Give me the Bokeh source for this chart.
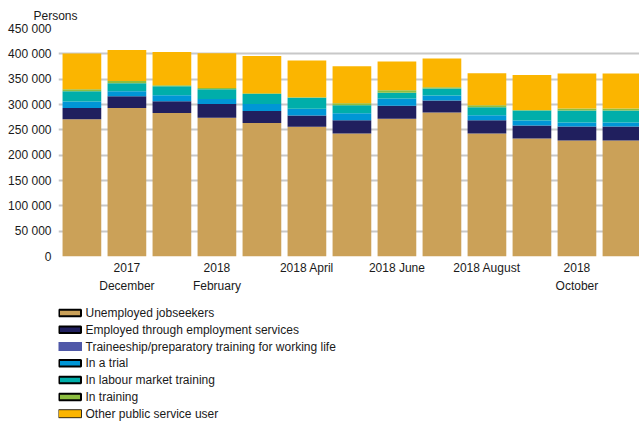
from bokeh.plotting import figure
from bokeh.layouts import column
from bokeh.models import ColumnDataSource, FixedTicker, Title, Range1d
from bokeh.core.properties import value
from bokeh.embed import file_html
from bokeh.resources import INLINE

months = ["2017 November", "2017 December", "2018 January", "2018 February", "2018 March",
          "2018 April", "2018 May", "2018 June", "2018 July", "2018 August",
          "2018 September", "2018 October", "2018 November"]
tick_labels = {1: "2017\nDecember", 3: "2018\nFebruary", 5: "2018 April", 7: "2018 June",
               9: "2018 August", 11: "2018\nOctober"}

series_names = ["Unemployed jobseekers", "Employed through employment services",
                "Traineeship/preparatory training for working life", "In a trial",
                "In labour market training", "In training", "Other public service user"]
unemployed = [271000, 293000, 283000, 274000, 263500, 256000, 243000, 272000, 284000, 243000, 233000, 229000, 229000]
employed = [22300, 23100, 23600, 27200, 23700, 22300, 25700, 25700, 23700, 25700, 25700, 27600, 27600]
traineeship = [0, 0, 0, 0, 0, 0, 0, 0, 0, 0, 0, 0, 0]
trial = [12700, 9900, 11800, 9900, 14000, 13200, 13800, 13900, 9900, 9900, 9900, 7900, 7900]
labour = [20300, 15800, 17700, 19100, 19700, 22000, 15800, 11800, 13800, 15800, 19700, 23700, 23700]
training = [3900, 4500, 2000, 2600, 1400, 700, 4000, 4500, 2600, 3900, 700, 4000, 4000]
other = [70500, 61500, 65600, 68500, 73600, 72400, 73000, 56800, 56600, 63200, 69100, 69100, 69100]
y_ticks = [0, 50000, 100000, 150000, 200000, 250000, 300000, 350000, 400000, 450000]

colors = ["#CBA158", "#201F5E", "#4F58A8", "#0096D6", "#00AEAA", "#8DBE40", "#FBB500"]
keys = ["unemployed", "employed", "traineeship", "trial", "labour", "training", "other"]

src = ColumnDataSource(dict(x=list(range(len(months))), unemployed=unemployed, employed=employed,
                            traineeship=traineeship, trial=trial, labour=labour,
                            training=training, other=other))

FONT = "Liberation Sans"
TXT = "#1a1a1a"

# ---------------- main chart ----------------
p = figure(width=639, height=300, output_backend="svg", toolbar_location=None,
           x_range=Range1d(-0.52, 12.39), y_range=Range1d(0, 450000),
           min_border_left=58, min_border_right=0, min_border_top=28, min_border_bottom=44)
p.outline_line_color = None

p.vbar_stack(keys, x="x", width=0.86, source=src, color=colors, line_color=None)

p.xaxis.ticker = FixedTicker(ticks=list(tick_labels.keys()))
p.xaxis.major_label_overrides = tick_labels
p.yaxis.ticker = FixedTicker(ticks=y_ticks)
p.yaxis.major_label_overrides = {v: (f"{v:,}".replace(",", " ")) for v in y_ticks}
for ax in (p.xaxis[0], p.yaxis[0]):
    ax.axis_line_color = None
    ax.major_tick_line_color = None
    ax.minor_tick_line_color = None
    ax.major_tick_in = 0
    ax.major_tick_out = 0
    ax.major_label_text_font = FONT
    ax.major_label_text_font_size = "12px"
    ax.major_label_text_color = TXT
p.xaxis.major_label_standoff = 4
p.xaxis.major_label_text_line_height = 1.3
p.yaxis.major_label_standoff = 7

p.xgrid.grid_line_color = None
p.ygrid.grid_line_color = "#C8C8C8"
p.ygrid.grid_line_width = 2

p.add_layout(Title(text="Persons", align="left", offset=-25, standoff=8,
                   vertical_align="top", text_line_height=1.6,
                   text_font=FONT, text_font_size="12px", text_font_style="normal",
                   text_color=TXT), "above")

# ---------------- legend panel ----------------
n = len(series_names)
leg_src = ColumnDataSource(dict(
    name=series_names, color=colors,
    y=[12.4 + 16.8 * i for i in range(n)],
    sx=[69.5] * n, tx=[85] * n,
    w=[22, 22, 24, 22, 22, 22, 23], h=[6.5, 6.5, 9, 6.5, 6.5, 6.5, 8],
    la=[1, 1, 0, 1, 1, 1, 0.8], lw=[2, 2, 2, 2, 2, 2, 1],
))
lg = figure(width=639, height=121, output_backend="svg", toolbar_location=None,
            x_range=Range1d(58, 639), y_range=Range1d(121, 0),
            min_border=0, min_border_left=0, min_border_right=0, min_border_top=0, min_border_bottom=0)
lg.axis.visible = False
lg.grid.grid_line_color = None
lg.outline_line_color = None
lg.rect(x="sx", y="y", width="w", height="h", source=leg_src, fill_color="color",
        line_color="black", line_alpha="la", line_width="lw")
lg.text(x="tx", y="y", text="name", source=leg_src, text_font=value(FONT),
        text_font_size="12px", text_color=TXT, text_baseline="middle", text_align="left")

layout = column(p, lg, spacing=0)
open("out.html", "w").write(file_html(layout, INLINE))
